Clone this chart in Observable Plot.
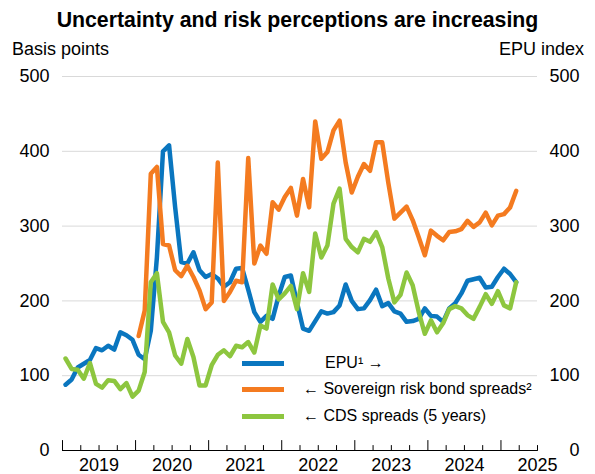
<!DOCTYPE html>
<html>
<head>
<meta charset="utf-8">
<script src="https://cdn.jsdelivr.net/npm/d3@7"></script>
<script src="https://cdn.jsdelivr.net/npm/@observablehq/plot@0.6"></script>
<style>
  body { margin: 0; background: #fff; font-family: "Liberation Sans", Arial, sans-serif; }
  #wrap { position: relative; width: 595px; height: 474px; overflow: hidden; background: #fff; }
  #title { position: absolute; top: 0; left: 0; width: 595px; text-align: center; font-weight: bold; font-size: 21.3px; line-height: 40px; color: #000; }
  .unit { position: absolute; top: 39px; font-size: 18px; line-height: 20px; color: #000; white-space: nowrap; }
  #chart { position: absolute; top: 62px; left: 0; }
  .lgline { position: absolute; left: 242px; width: 42px; height: 5px; }
  .lgtext { position: absolute; font-size: 16px; line-height: 20px; color: #000; white-space: nowrap; }
</style>
</head>
<body>
<div id="wrap">
  <div id="title">Uncertainty and risk perceptions are increasing</div>
  <div class="unit" style="left:12px">Basis points</div>
  <div class="unit" style="right:11px">EPU index</div>
  <div id="chart"></div>
  <div id="legend"></div>
</div>
<script>
// Monthly data, first value = January 2019
const startYear = 2019;
const seriesNames = ["EPU\u00B9 \u2192", "\u2190 Sovereign risk bond spreads\u00B2", "\u2190 CDS spreads (5 years)"];
const seriesColors = ["#0a76bf", "#f47b20", "#8dc63f"];

// EPU index (right axis), Jan 2019 - Mar 2025
const epu = [88, 95, 111, 116, 121, 137, 134, 140, 135, 158, 154, 148,
             128, 122, 160, 258, 400, 408, 325, 252, 250, 265, 241, 232,
             236, 230, 219, 225, 243, 244, 215, 185, 172, 180, 176, 207,
             232, 234, 198, 163, 160, 173, 186, 183, 185, 194, 222, 200,
             189, 190, 201, 215, 193, 197, 186, 183, 172, 173, 176, 190,
             180, 179, 172, 190, 197, 210, 227, 229, 231, 218, 219, 232,
             243, 236, 225];

// Sovereign risk bond spreads (left axis), starting January 2020
const sovereignStart = 12;
const sovereign = [153, 187, 370, 379, 276, 274, 241, 233, 247, 232, 214, 189,
                   198, 385, 200, 212, 227, 225, 391, 250, 274, 263, 332, 322,
                   339, 351, 314, 363, 325, 440, 390, 399, 428, 441, 385, 345,
                   366, 383, 374, 412, 412, 358, 310, 318, 326, 308, 285, 261,
                   294, 287, 281, 292, 293, 296, 307, 299, 305, 318, 301, 314,
                   316, 325, 347];

// CDS spreads 5 years (left axis), Jan 2019 - Mar 2025
const cds = [123, 109, 108, 96, 117, 89, 84, 94, 93, 82, 90, 72,
             80, 105, 225, 237, 172, 158, 127, 116, 149, 125, 87, 87,
             114, 128, 134, 126, 140, 138, 145, 131, 167, 163, 222, 202,
             210, 220, 189, 237, 212, 290, 258, 274, 330, 350, 283, 272,
             265, 283, 279, 292, 272, 230, 198, 208, 238, 221, 185, 156,
             174, 158, 170, 189, 193, 190, 181, 176, 192, 209, 196, 213,
             194, 190, 225];

const yTicks = [0, 100, 200, 300, 400, 500];
const yearLabels = [2019, 2020, 2021, 2022, 2023, 2024, 2025];

const monthX = (i) => startYear + (i + 0.5) / 12;
const rows = (vals, offset, name) => vals.map((v, i) => ({x: monthX(i + offset), y: v, series: name}));

const epuRows = rows(epu, 0, seriesNames[0]);
const sovRows = rows(sovereign, sovereignStart, seriesNames[1]);
const cdsRows = rows(cds, 0, seriesNames[2]);

const majorTicks = yearLabels;
const minorTicks = d3.range(startYear * 4 + 1, 2025.5 * 4 + 1).map(q => q / 4).filter(q => q % 1 !== 0);
const tickShape = { draw(context, l) { context.moveTo(0, 0); context.lineTo(0, -l); } };

const chart = Plot.plot({
  width: 595,
  height: 412,
  marginLeft: 62,
  marginRight: 58,
  marginTop: 14,
  marginBottom: 24,
  style: { fontFamily: "Liberation Sans, Arial, sans-serif", fontSize: "18px", color: "#000", background: "#fff", overflow: "visible" },
  x: { domain: [startYear, 2025.5] },
  y: { domain: [0, 500] },
  marks: [
    Plot.gridY(yTicks.filter(d => d > 0), { stroke: "#d9d9d9", strokeOpacity: 1, strokeWidth: 1 }),
    Plot.ruleY([0], { stroke: "#000", strokeWidth: 1 }),
    Plot.vector(majorTicks, { x: d => d, frameAnchor: "bottom", length: 10, anchor: "start", shape: tickShape, stroke: "#000", strokeWidth: 1 }),
    Plot.vector(minorTicks, { x: d => d, frameAnchor: "bottom", length: 5, anchor: "start", shape: tickShape, stroke: "#000", strokeWidth: 1 }),
    Plot.axisX(yearLabels.map(d => d + 0.5), { tickSize: 0, tickPadding: 8, tickFormat: d => String(Math.floor(d)), fontSize: 18, label: null }),
    Plot.axisY(yTicks, { anchor: "left", tickSize: 0, tickPadding: 13, fontSize: 18, label: null }),
    Plot.axisY(yTicks, { anchor: "right", tickSize: 0, tickPadding: 42, textAnchor: "end", fontSize: 18, label: null }),
    Plot.line(epuRows, { x: "x", y: "y", stroke: seriesColors[0], strokeWidth: 4.5 }),
    Plot.line(sovRows, { x: "x", y: "y", stroke: seriesColors[1], strokeWidth: 4.5 }),
    Plot.line(cdsRows, { x: "x", y: "y", stroke: seriesColors[2], strokeWidth: 4.5 })
  ]
});
document.getElementById("chart").appendChild(chart);

// Legend (inside plot area)
const legend = document.getElementById("legend");
const lgLineY = [363, 389, 416];
const lgTextX = [325, 303, 303];
seriesNames.forEach((name, i) => {
  const ln = document.createElement("div");
  ln.className = "lgline";
  ln.style.top = (lgLineY[i] - 2.5) + "px";
  ln.style.background = seriesColors[i];
  legend.appendChild(ln);
  const tx = document.createElement("div");
  tx.className = "lgtext";
  tx.style.top = (lgLineY[i] - 10) + "px";
  tx.style.left = lgTextX[i] + "px";
  tx.textContent = name;
  legend.appendChild(tx);
});
</script>
</body>
</html>
